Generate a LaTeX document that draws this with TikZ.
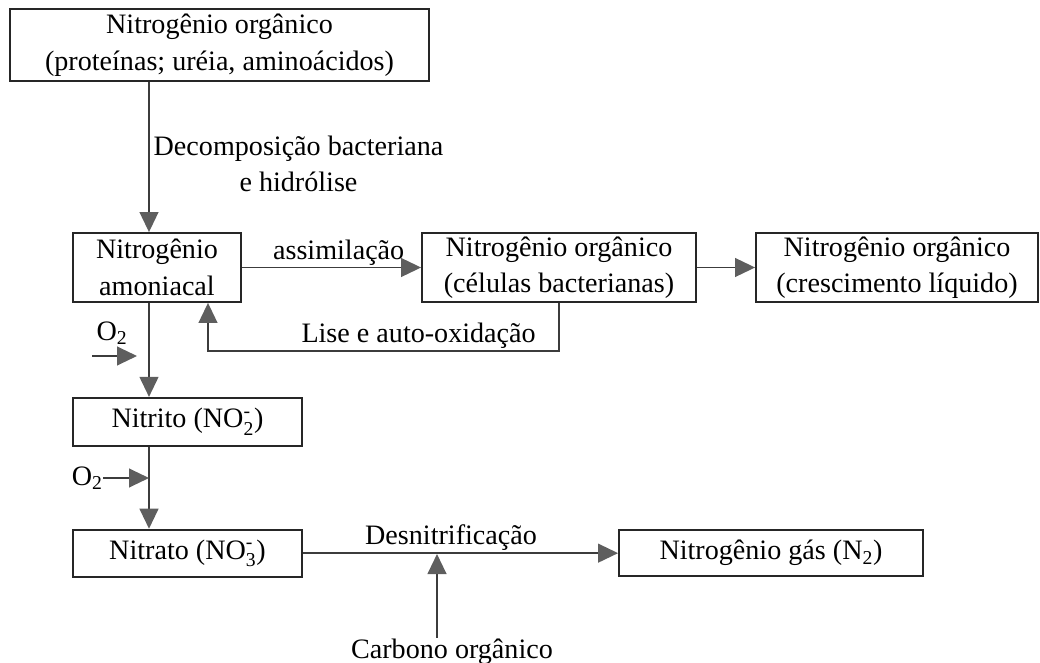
\documentclass[tikz,border=0pt]{standalone}
\usepackage{fontspec}
\setmainfont{Liberation Serif}
\usepackage{amsmath}
\usetikzlibrary{arrows.meta,positioning,calc}
\definecolor{linegray}{HTML}{3C3C3C}
\definecolor{headgray}{HTML}{5E5E5E}
\tikzset{
    block/.style={rectangle, draw=black!85, line width=1.3pt, align=center, inner sep=2pt, font=\fontsize{20}{26}\selectfont},
    lbl/.style={font=\fontsize{20}{26}\selectfont, inner sep=1pt},
    line/.style={draw=linegray, line width=1.2pt, -{Triangle[length=0.5cm, width=0.47cm, color=headgray]}}
}
\begin{document}
\begin{tikzpicture}[node distance=3cm]
    \useasboundingbox (0,0) rectangle (26,-16.575);
    \coordinate (spine) at (3.725,0);

    \node [block, minimum width=10.475cm, minimum height=1.8cm] (orgN) at (5.4875,-1.125) {Nitrogênio orgânico\\(proteínas; uréia, aminoácidos)};
    \node [block, minimum width=4.2cm, minimum height=1.725cm] (amon) at (3.925,-6.6875) {Nitrogênio\\amoniacal};
    \node [block, right of=amon, node distance=10.05cm, minimum width=6.85cm, minimum height=1.725cm] (cells) {Nitrogênio orgânico\\(células bacterianas)};
    \node [block, right of=cells, node distance=8.45cm, minimum width=7.05cm, minimum height=1.725cm] (growth) {Nitrogênio orgânico\\(crescimento líquido)};
    \node [block, below=2.35cm of amon.south west, anchor=north west, minimum width=5.725cm, minimum height=1.2cm] (nitrite) {Nitrito (NO$_{\text{2}}^{\text{-}}$)};
    \node [block, below=2.05cm of nitrite, minimum width=5.725cm, minimum height=1.175cm] (nitrate) {Nitrato (NO$_{\text{3}}^{\text{-}}$)};
    \node [block, right of=nitrate, node distance=14.5875cm, minimum width=7.6cm, minimum height=1.15cm] (gas) {Nitrogênio gás (N$_{\text{2}}$)};

    % labels without a box
    \node [lbl, anchor=west, align=center] (decomp) at (3.8,-4.1) {Decomposição bacteriana\\e hidrólise};
    \node [lbl] (oxA) at (2.8,-8.325) {O$_{\text{2}}$};
    \node [lbl, anchor=east, inner sep=0pt] (oxB) at (2.575,-11.95) {O$_{\text{2}}$};
    \node [lbl] (carbon) at (11.3,-16.3) {Carbono orgânico};
    \coordinate (oxAin) at (2.3,-8.9);
    \coordinate (oxAtip) at (3.425,-8.9);
    \coordinate (carbtip) at (10.925,-13.85);
    \coordinate (lysis) at ($(amon.south)+(1.275,0)$);

    \path [line] (orgN.south -| spine) -- (amon.north -| spine);
    \path [line] (amon.east) -- node[lbl, above, pos=0.54] {assimilação} (cells.west);
    \path [line] (cells.east) -- (growth.west);
    \path [line] (cells.south) -- ++(0,-1.2) -| node[lbl, above, pos=0.2] {Lise e auto-oxidação} (lysis);
    \path [line] (amon.south -| spine) -- (nitrite.north -| spine);
    \path [line] (oxAin) -- (oxAtip);
    \path [line] (nitrite.south -| spine) -- (nitrate.north -| spine);
    \path [line] (oxB.east) -- (oxB.east -| spine);
    \path [line] (nitrate.east) -- node[lbl, above, pos=0.47] {Desnitrificação} (gas.west);
    \path [line] (carbon.north -| carbtip) -- (carbtip);
\end{tikzpicture}
\end{document}
